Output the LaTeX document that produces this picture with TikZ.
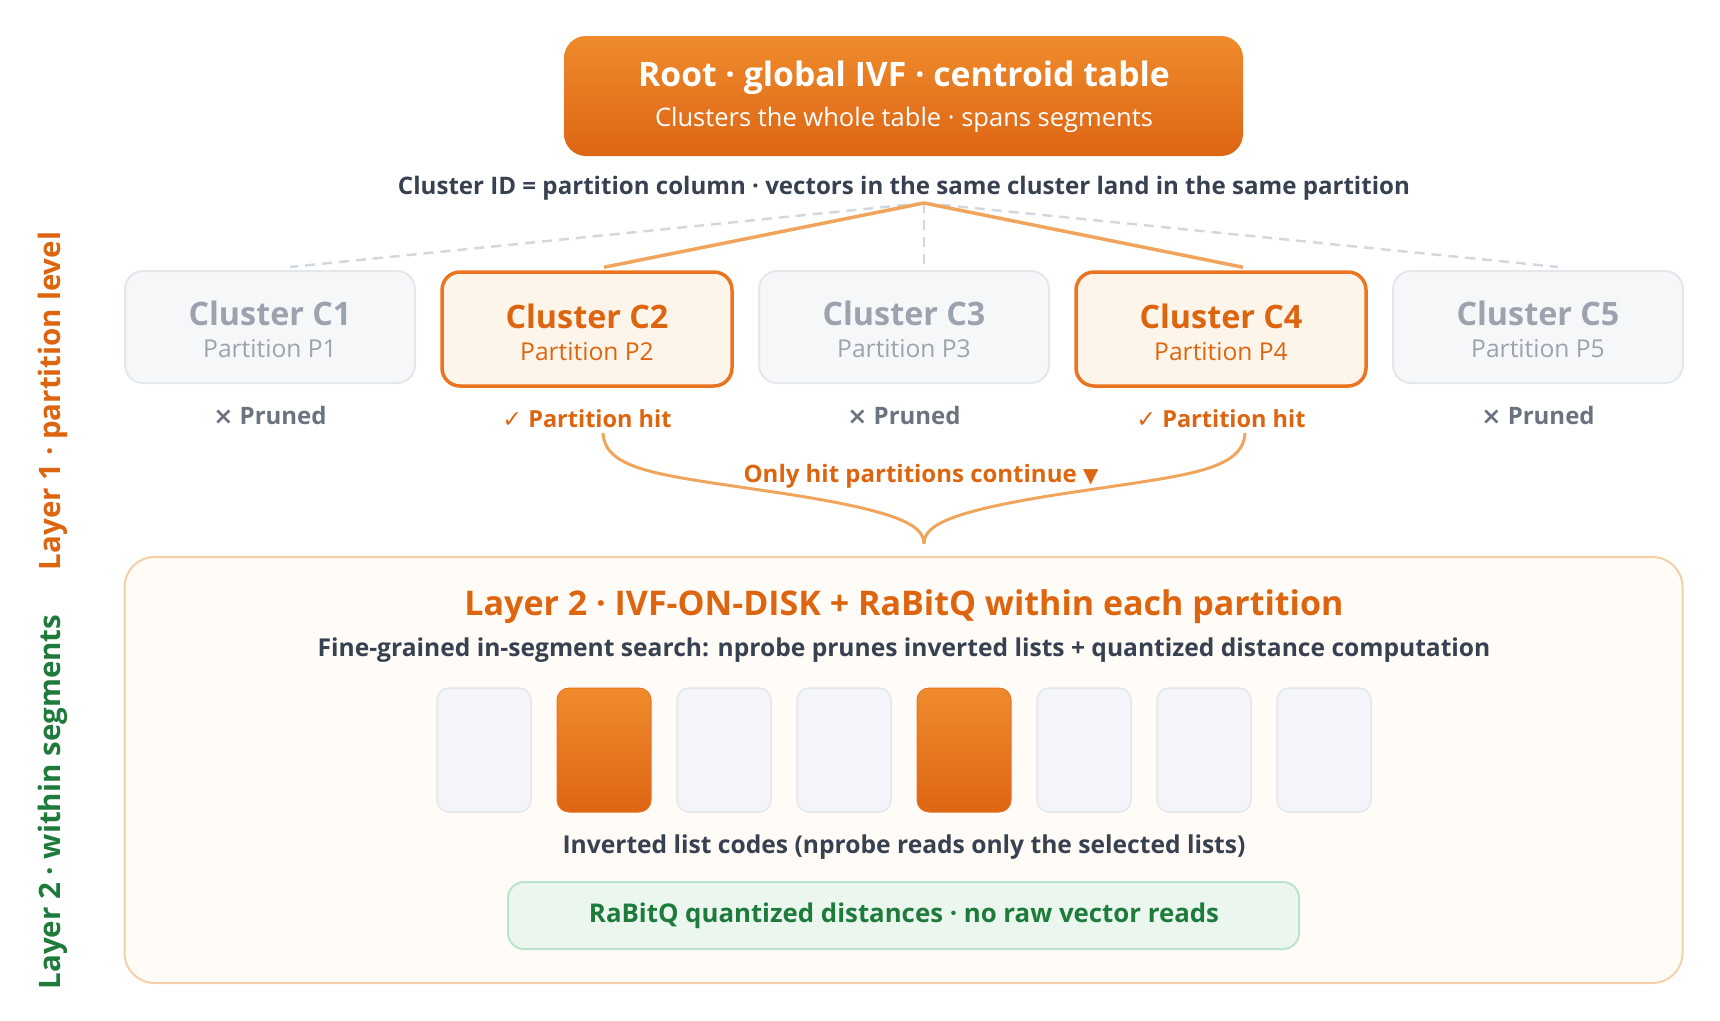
\documentclass[tikz,border=0pt]{standalone}
\usepackage{fontspec}
\setmainfont{Open Sans}
\newfontfamily\symfont{DejaVu Sans}
\usepackage{tikz}
\usetikzlibrary{positioning}
\definecolor{rootTop}{HTML}{EF8B2C}
\definecolor{rootBot}{HTML}{DD6514}
\definecolor{hotText}{HTML}{DD6510}
\definecolor{hitLine}{HTML}{EB7420}
\definecolor{hitFill}{HTML}{FEF5EA}
\definecolor{coldFill}{HTML}{F6F7F9}
\definecolor{coldLine}{HTML}{E4E7EC}
\definecolor{coldText}{HTML}{9CA3AF}
\definecolor{prunedText}{HTML}{6B7280}
\definecolor{darkText}{HTML}{374151}
\definecolor{hitEdgeCol}{HTML}{EFA65C}
\definecolor{dashCol}{HTML}{D3D8E0}
\definecolor{layerFill}{HTML}{FFFBF6}
\definecolor{layerLine}{HTML}{F5CFA5}
\definecolor{barFill}{HTML}{F3F5F9}
\definecolor{barLine}{HTML}{E3E7ED}
\definecolor{greenFill}{HTML}{EBF6EF}
\definecolor{greenLine}{HTML}{BCE3CB}
\definecolor{greenText}{HTML}{1E7B3B}
\tikzset{
      rootbox/.style  = {rounded corners=22pt, top color=rootTop, bottom color=rootBot,
                         minimum width=679pt, minimum height=120pt},
      coldbox/.style  = {draw=coldLine, line width=2pt, fill=coldFill, rounded corners=18pt,
                         minimum width=290pt, minimum height=112pt},
      hitbox/.style   = {draw=hitLine, line width=3.5pt, fill=hitFill, rounded corners=18pt,
                         minimum width=290pt, minimum height=114pt},
      coldtitle/.style = {text=coldText, font=\fontsize{32.3}{37}\selectfont\bfseries},
      coldpart/.style  = {text=coldText, font=\fontsize{24.6}{28}\selectfont},
      hottitle/.style  = {text=hotText, font=\fontsize{32.3}{37}\selectfont\bfseries},
      hotpart/.style   = {text=hotText, font=\fontsize{24.6}{28}\selectfont},
      pruned/.style   = {text=prunedText, font=\fontsize{24}{28}\selectfont\bfseries},
      hit/.style      = {text=hotText, font=\fontsize{23.5}{27}\selectfont\bfseries},
      hitedge/.style  = {hitEdgeCol, line width=3.5pt},
      coldedge/.style = {dashCol, line width=2.5pt, dash pattern=on 10pt off 7pt},
      layerbox/.style = {draw=layerLine, line width=2pt, fill=layerFill, rounded corners=30pt,
                         minimum width=1558pt, minimum height=426pt},
      coldbar/.style  = {draw=barLine, line width=1.5pt, fill=barFill, rounded corners=12pt,
                         minimum width=94pt, minimum height=124pt},
      hotbar/.style   = {draw=hitLine, line width=1pt, top color=rootTop, bottom color=rootBot,
                         rounded corners=12pt, minimum width=94pt, minimum height=124pt},
      greenbox/.style = {draw=greenLine, line width=2pt, fill=greenFill, rounded corners=16pt,
                         minimum width=791pt, minimum height=67pt},
    }

\begin{document}
\begin{tikzpicture}[x=1pt, y=-1pt]
        \useasboundingbox (0,0) rectangle (1720,1020);

        % root
        \node[rootbox] (root) at (903.5,96) {};
        \node[text=white, font=\fontsize{33.7}{38}\selectfont\bfseries] (roottitle) at (904,78) {Root · global IVF · centroid table};
        \node[text=white, font=\fontsize{25.5}{29}\selectfont] (rootsub) at (904,120) {Clusters the whole table · spans segments};
        \node[text=darkText, font=\fontsize{24.1}{28}\selectfont\bfseries] (idline) at (904,188) {Cluster ID = partition column · vectors in the same cluster land in the same partition};

        % clusters
        \node[coldbox] (c1) at (270,327) {};
        \node[hitbox] (c2) at (587,329) {};
        \node[coldbox] (c3) at (904,327) {};
        \node[hitbox] (c4) at (1221,329) {};
        \node[coldbox] (c5) at (1538,327) {};

        \coordinate (apex) at (924,203);
        \draw[coldedge] (apex) -- ([xshift=20pt,yshift=3pt]c1.north);
        \draw[coldedge] (apex) -- ([xshift=20pt,yshift=3pt]c3.north);
        \draw[coldedge] (apex) -- ([xshift=20pt,yshift=3pt]c5.north);
        \draw[hitedge] (apex) -- ([xshift=17pt,yshift=3pt]c2.north);
        \draw[hitedge] (apex) -- ([xshift=22pt,yshift=3pt]c4.north);

        \node[coldtitle] (c1t) at (270,313) {Cluster C1};
        \node[coldpart] (c1p) at (270,349) {Partition P1};
        \node[hottitle] (c2t) at (587,316) {Cluster C2};
        \node[hotpart] (c2p) at (587,352) {Partition P2};
        \node[coldtitle] (c3t) at (904,313) {Cluster C3};
        \node[coldpart] (c3p) at (904,349) {Partition P3};
        \node[hottitle] (c4t) at (1221,316) {Cluster C4};
        \node[hotpart] (c4p) at (1221,352) {Partition P4};
        \node[coldtitle] (c5t) at (1538,313) {Cluster C5};
        \node[coldpart] (c5p) at (1538,349) {Partition P5};

        \node[pruned] (s1) at (270,415) {{\symfont\bfseries ×} Pruned};
        \node[hit] (s2) at (587,419) {{\symfont\bfseries ✓} Partition hit};
        \node[pruned] (s3) at (904,415) {{\symfont\bfseries ×} Pruned};
        \node[hit] (s4) at (1221,419) {{\symfont\bfseries ✓} Partition hit};
        \node[pruned] (s5) at (1538,415) {{\symfont\bfseries ×} Pruned};

        % merge brace
        \coordinate (b2) at (603,433);
        \coordinate (b4) at (1245,433);
        \coordinate (bl) at (760,490);
        \coordinate (br) at (1088,490);
        \coordinate (tip) at (924,544);
        \draw[hitedge, line width=3pt] (b2) .. controls (605,470) and (660,475) .. (bl)
              .. controls (900,510) and (924,525) .. (tip);
        \draw[hitedge, line width=3pt] (b4) .. controls (1243,470) and (1188,475) .. (br)
              .. controls (948,510) and (924,525) .. (tip);
        \node[hit, font=\fontsize{24}{28}\selectfont\bfseries] (cont) at (921,476) {Only hit partitions continue {\symfont\fontsize{20}{24}\selectfont ▼}};

        % layer 2
        \node[layerbox] (layer) at (903.5,770) {};
        \node[text=hotText, font=\fontsize{34}{39}\selectfont\bfseries] (l2title) at (904,607) {Layer 2 · IVF-ON-DISK + RaBitQ within each partition};
        \node[text=darkText, font=\fontsize{24.6}{28}\selectfont\bfseries] (l2sub) at (904,650) {Fine-grained in-segment search: nprobe prunes inverted lists + quantized distance computation};

        \node[coldbar] (bar1) at (484,750) {};
        \node[hotbar]  (bar2) at (604,750) {};
        \node[coldbar] (bar3) at (724,750) {};
        \node[coldbar] (bar4) at (844,750) {};
        \node[hotbar]  (bar5) at (964,750) {};
        \node[coldbar] (bar6) at (1084,750) {};
        \node[coldbar] (bar7) at (1204,750) {};
        \node[coldbar] (bar8) at (1324,750) {};

        \node[text=darkText, font=\fontsize{24.6}{28}\selectfont\bfseries] (barcap) at (904,847) {Inverted list codes (nprobe reads only the selected lists)};
        \node[greenbox] (rabitq) at (903.5,915.5) {};
        \node[text=greenText, font=\fontsize{25.8}{30}\selectfont\bfseries] (rabitqt) at (904,916) {RaBitQ quantized distances · no raw vector reads};

        % side labels
        \node[rotate=90, text=hotText, font=\fontsize{29.5}{34}\selectfont\bfseries] (side1) at (53,401) {Layer 1 · partition level};
        \node[rotate=90, text=greenText, font=\fontsize{29.5}{34}\selectfont\bfseries] (side2) at (53,802) {Layer 2 · within segments};
\end{tikzpicture}
\end{document}
